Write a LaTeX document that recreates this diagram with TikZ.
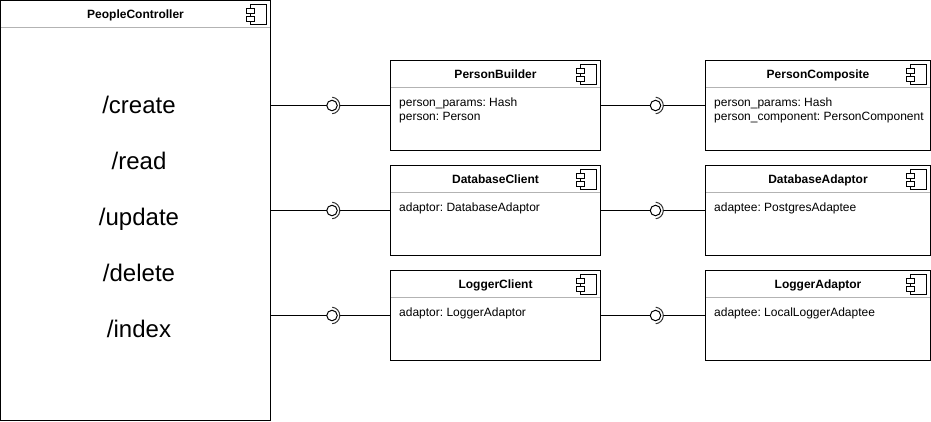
\documentclass[tikz,border=0pt]{standalone}
\usepackage{fontspec}
\setmainfont{Liberation Sans}
\usetikzlibrary{calc}
\usetikzlibrary{positioning}
\definecolor{sepgray}{HTML}{B3B3B3}
\tikzstyle{compbox}= [draw, line width=1pt, outer sep=0pt, inner sep=0pt, minimum width=210pt, minimum height=90pt]
\tikzstyle{comptitle}= [anchor=base, inner sep=0pt, font=\fontsize{12}{14}\selectfont\bfseries]
\tikzstyle{compfields}= [anchor=north west, inner sep=0pt, align=left, font=\fontsize{12}{14}\selectfont]
\tikzstyle{route}= [anchor=base, inner sep=0pt, font=\fontsize{24}{28}\selectfont]
\tikzstyle{ball}= [draw, circle, line width=1pt, minimum size=10.5pt, inner sep=0pt, outer sep=0pt]
\tikzstyle{wire}= [line width=1pt]
\frenchspacing
% title, separator and icon of one component box
\newcommand{\compparts}[2]{
  \node[comptitle] (#1title) at ($(#1.north)+(0,18)$) {#2};
  \draw[sepgray,line width=1pt] ($(#1.north west)+(0.5,27)$) -- ($(#1.north east)+(-0.5,27)$);
  \draw[wire] ($(#1.north east)+(-20,4)$) rectangle ($(#1.north east)+(-4,24)$);
  \draw[wire,fill=white] ($(#1.north east)+(-24,8)$) rectangle ($(#1.north east)+(-16,13)$);
  \draw[wire,fill=white] ($(#1.north east)+(-24,16)$) rectangle ($(#1.north east)+(-16,21)$);
}
% ball and socket between two boxes
\newcommand{\lollipop}[4]{
  \node[ball] (#1) at (#4,0 |- #3.west) {};
  \coordinate (#1cup) at ($(#1)+(7.8,0)$);
  \draw[wire] (#2.east |- #1) -- (#1);
  \draw[wire] (#1cup) -- (#3.west);
  \draw[line width=1pt,black!80] ($(#1)+(0.2,-8.3)$) arc[start angle=85,end angle=-85,radius=8.3pt];
}

\begin{document}
\begin{tikzpicture}[x=1pt,y=-1pt]
  \useasboundingbox (0,0) rectangle (931,421);

  \node[compbox,anchor=north west,minimum width=270pt,minimum height=420pt] (people) at (0.5,0.5) {};
  \node[compbox,anchor=north west] (builder) at (390.5,60.5) {};
  \node[compbox,below=15pt of builder] (dbclient) {};
  \node[compbox,below=15pt of dbclient] (logclient) {};
  \node[compbox,anchor=north west,minimum width=225pt] (composite) at (705.5,60.5) {};
  \node[compbox,below=15pt of composite,minimum width=225pt] (dbadaptor) {};
  \node[compbox,below=15pt of dbadaptor,minimum width=225pt] (logadaptor) {};

  \compparts{people}{PeopleController}
  \compparts{builder}{PersonBuilder}
  \compparts{dbclient}{DatabaseClient}
  \compparts{logclient}{LoggerClient}
  \compparts{composite}{PersonComposite}
  \compparts{dbadaptor}{DatabaseAdaptor}
  \compparts{logadaptor}{LoggerAdaptor}

  \node[compfields] (builderfields) at ($(builder.north west)+(8.5,37)$) {person\_params: Hash\\person: Person};
  \node[compfields] (dbclientfields) at ($(dbclient.north west)+(8.5,37)$) {adaptor: DatabaseAdaptor};
  \node[compfields] (logclientfields) at ($(logclient.north west)+(8.5,37)$) {adaptor: LoggerAdaptor};
  \node[compfields] (compositefields) at ($(composite.north west)+(8.5,37)$) {person\_params: Hash\\person\_component: PersonComponent};
  \node[compfields] (dbadaptorfields) at ($(dbadaptor.north west)+(8.5,37)$) {adaptee: PostgresAdaptee};
  \node[compfields] (logadaptorfields) at ($(logadaptor.north west)+(8.5,37)$) {adaptee: LocalLoggerAdaptee};

  \node[route] (create) at (139,113) {/create};
  \node[route] (read) at (139,169) {/read};
  \node[route] (update) at (139,225) {/update};
  \node[route] (delete) at (139,281) {/delete};
  \node[route] (index) at (139,337) {/index};

  \lollipop{ballA}{people}{builder}{332}
  \lollipop{ballB}{people}{dbclient}{332}
  \lollipop{ballC}{people}{logclient}{332}
  \lollipop{ballD}{builder}{composite}{655.5}
  \lollipop{ballE}{dbclient}{dbadaptor}{655.5}
  \lollipop{ballF}{logclient}{logadaptor}{655.5}
\end{tikzpicture}
\end{document}
